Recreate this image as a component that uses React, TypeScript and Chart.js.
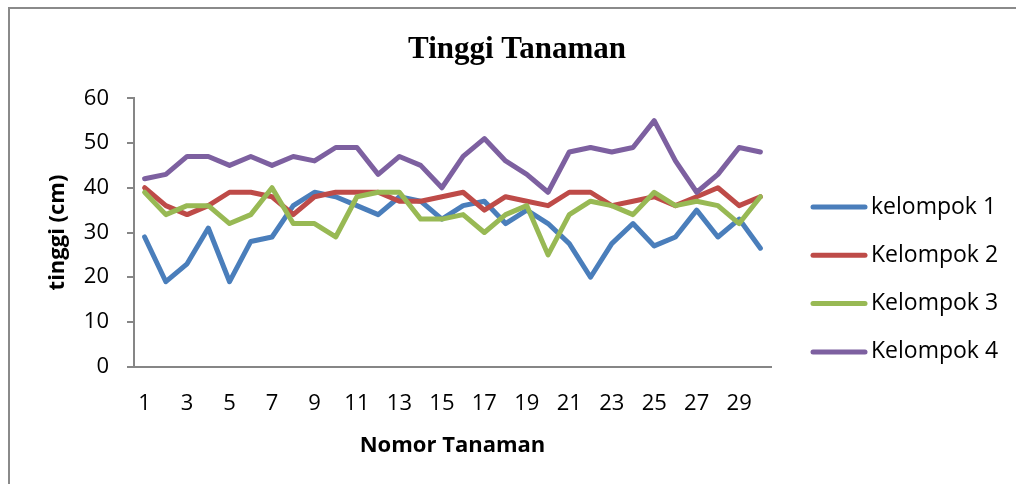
import React, { useEffect, useRef } from "react";
import { Chart, registerables } from "chart.js";

Chart.register(...registerables);

const categories = ["1","2","3","4","5","6","7","8","9","10","11","12","13","14","15","16","17","18","19","20","21","22","23","24","25","26","27","28","29","30"];
const seriesNames = ["kelompok 1", "Kelompok 2", "Kelompok 3", "Kelompok 4"];
const kelompok1 = [29, 19, 23, 31, 19, 28, 29, 36, 39, 38, 36, 34, 38, 37, 33, 36, 37, 32, 35, 32, 27.5, 20, 27.5, 32, 27, 29, 35, 29, 33, 26.5];
const kelompok2 = [40, 36, 34, 36, 39, 39, 38, 34, 38, 39, 39, 39, 37, 37, 38, 39, 35, 38, 37, 36, 39, 39, 36, 37, 38, 36, 38, 40, 36, 38];
const kelompok3 = [39, 34, 36, 36, 32, 34, 40, 32, 32, 29, 38, 39, 39, 33, 33, 34, 30, 34, 36, 25, 34, 37, 36, 34, 39, 36, 37, 36, 32, 38];
const kelompok4 = [42, 43, 47, 47, 45, 47, 45, 47, 46, 49, 49, 43, 47, 45, 40, 47, 51, 46, 43, 39, 48, 49, 48, 49, 55, 46, 39, 43, 49, 48];
const colors = ["#4A7EBB", "#BE4B48", "#98B954", "#7D60A0"];
const titleText = "Tinggi Tanaman";
const xTitle = "Nomor Tanaman";
const yTitle = "tinggi (cm)";

const SANS = "'Open Sans', 'DejaVu Sans', sans-serif";

const legendPlugin = {
  id: "customLegend",
  afterDraw(chart: any) {
    const ctx = chart.ctx;
    ctx.save();
    chart.data.datasets.forEach((ds: any, i: number) => {
      const y = 207 + i * 48.3;
      ctx.beginPath();
      ctx.strokeStyle = ds.borderColor;
      ctx.lineWidth = 5;
      ctx.lineCap = "round";
      ctx.moveTo(813, y);
      ctx.lineTo(865, y);
      ctx.stroke();
      ctx.fillStyle = "#000";
      ctx.font = `23px ${SANS}`;
      ctx.textBaseline = "middle";
      ctx.textAlign = "left";
      ctx.fillText(ds.label, 871, y);
    });
    ctx.restore();
  },
};

export default function App() {
  const ref = useRef<HTMLCanvasElement>(null);
  useEffect(() => {
    if (!ref.current) return;
    const series = [kelompok1, kelompok2, kelompok3, kelompok4];
    const chart = new Chart(ref.current, {
      type: "line",
      data: {
        labels: categories,
        datasets: series.map((d, i) => ({
          label: seriesNames[i],
          data: d,
          borderColor: colors[i],
          backgroundColor: colors[i],
          borderWidth: 5,
          pointRadius: 0,
          tension: 0,
          borderCapStyle: "round",
          borderJoinStyle: "round",
          order: 4 - i,
          yAxisID: "y",
        })),
      },
      options: {
        responsive: false,
        animation: false,
        devicePixelRatio: 1,
        layout: { padding: { left: 18, right: 0, top: 0, bottom: 0 } },
        plugins: {
          legend: { display: false },
          tooltip: { enabled: false },
          title: {
            display: true,
            text: titleText,
            color: "#000",
            font: { family: "'Liberation Serif', serif", size: 31, weight: "bold" },
            padding: { top: 31.4, bottom: 29.7 },
          },
        },
        scales: {
          x: {
            type: "category",
            offset: true,
            grid: { display: false },
            border: { display: true, color: "#868686", width: 2 },
            ticks: {
              autoSkip: false,
              maxRotation: 0,
              minRotation: 0,
              color: "#000",
              font: { family: SANS, size: 22 },
              padding: 16,
              callback: (_v: any, i: number) => (i % 2 === 0 ? categories[i] : ""),
            },
            title: {
              display: true,
              text: xTitle,
              color: "#000",
              font: { family: SANS, size: 22, weight: "bold" },
              padding: { top: 0, bottom: 25 },
            },
            afterFit: (s: any) => { s.height = 117.3; },
          },
          y: {
            type: "linear",
            position: "left",
            min: 0,
            max: 60,
            grid: { display: true, drawOnChartArea: false, drawTicks: true, tickLength: 7, color: "#868686", lineWidth: 2 },
            border: { display: true, color: "#868686", width: 2 },
            ticks: { stepSize: 10, color: "#000", font: { family: SANS, size: 22 }, padding: 18 },
            title: {
              display: true,
              text: yTitle,
              color: "#000",
              font: { family: SANS, size: 22, weight: "bold" },
              padding: { top: 26.8, bottom: 0 },
            },
            afterFit: (s: any) => { s.width = 116; },
          },
          yR: {
            type: "linear",
            position: "right",
            display: true,
            grid: { display: false },
            border: { display: false },
            ticks: { display: false },
            afterFit: (s: any) => { s.width = 245; },
          },
        },
      },
      plugins: [legendPlugin],
    } as any);
    return () => chart.destroy();
  }, []);

  return (
    <div style={{ position: "absolute", left: 0, top: 0, width: 1016, height: 484, overflow: "hidden", background: "#fff" }}>
      <div
        style={{
          position: "absolute",
          left: 8,
          top: 7,
          width: 1008,
          height: 477,
          boxSizing: "border-box",
          borderLeft: "2px solid #8a8a8a",
          borderTop: "2px solid #8a8a8a",
        }}
      />
      <canvas ref={ref} width={1016} height={484} style={{ position: "absolute", left: 0, top: 0 }} />
    </div>
  );
}
